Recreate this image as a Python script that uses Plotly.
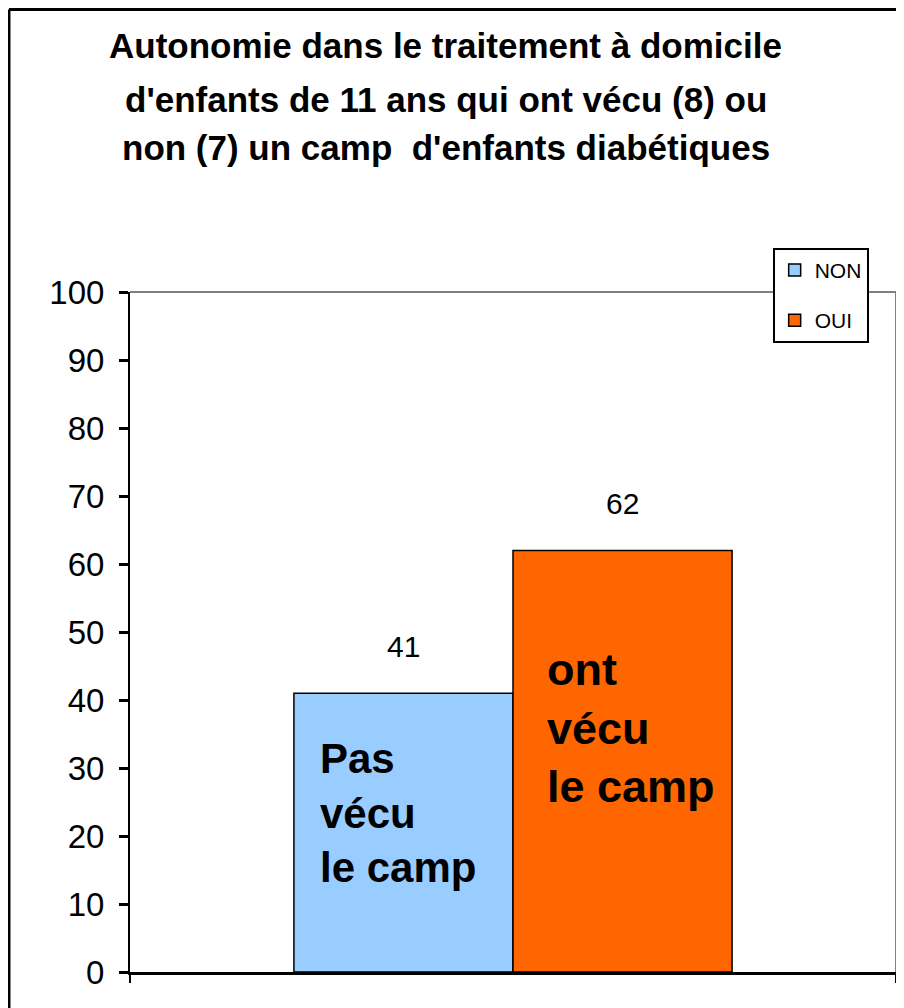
import plotly.graph_objects as go

series = ["NON", "OUI"]
values = [41, 62]
colors = ["#99CCFF", "#FF6600"]
inside_labels = ["Pas<br>vécu<br>le camp", "ont<br>vécu<br>le camp"]
category = [""]
yticks = list(range(0, 101, 10))

title_lines = ["Autonomie dans le traitement à domicile",
               "d'enfants de 11 ans qui ont vécu (8) ou",
               "non (7) un camp  d'enfants diabétiques"]

fig = go.Figure()
for name, val, col in zip(series, values, colors):
    fig.add_trace(go.Bar(
        x=category, y=[val], name=name, legendgroup=name,
        marker=dict(color=col, line=dict(color="black", width=1.5)),
        offsetgroup=name,
    ))

# value labels above bars, and big labels inside bars
bar_w = 0.286
pad = [0.031, 0.042]
shift = [-120, -178]
lab_size = [42, 45]
for i, (val, lab) in enumerate(zip(values, inside_labels)):
    xc = -bar_w / 2 if i == 0 else bar_w / 2
    fig.add_annotation(x=xc, y=val, text=str(val), showarrow=False,
                       yshift=47, font=dict(size=30, color="black"))
    fig.add_annotation(x=xc - bar_w / 2 + pad[i], y=val, text="<b>" + lab + "</b>",
                       showarrow=False, xanchor="left", yanchor="middle", align="left",
                       yshift=shift[i], font=dict(size=lab_size[i], color="black"))

# title, one annotation per line
for line, yp in zip(title_lines, [1.3632, 1.2824, 1.2118]):
    fig.add_annotation(xref="paper", yref="paper", x=0.4125, y=yp, text="<b>" + line + "</b>",
                       showarrow=False, xanchor="center", yanchor="middle",
                       font=dict(size=35, color="black"))

fig.update_layout(
    width=904, height=1008,
    margin=dict(l=122, r=16, t=284, b=44, autoexpand=False),
    paper_bgcolor="white", plot_bgcolor="white",
    font=dict(family="Liberation Sans, Arial, sans-serif", color="black"),
    barmode="group", bargap=0.428,
    showlegend=True,
    legend=dict(x=0.839, y=1.065, xanchor="left", yanchor="top",
                bordercolor="black", borderwidth=2, bgcolor="white",
                font=dict(size=21), itemwidth=30, tracegroupgap=20),
    xaxis=dict(range=[-0.5, 0.5], showline=True, linecolor="black", linewidth=3,
               ticks="outside", ticklen=8, tickwidth=2, tickcolor="black",
               tickvals=[-0.5, 0.5], ticktext=["", ""], showgrid=False, zeroline=False),
    yaxis=dict(range=[0, 100], tickvals=yticks, showline=True, linecolor="black",
               linewidth=2, ticks="outside", ticklen=9, tickwidth=3, tickcolor="black",
               tickfont=dict(size=33), ticklabelstandoff=8,
               showgrid=False, zeroline=False),
)

# gray plot border at top and right
fig.add_shape(type="line", xref="paper", yref="paper", x0=0, x1=1, y0=1, y1=1,
              line=dict(color="#808080", width=2))
fig.add_shape(type="line", xref="paper", yref="paper", x0=1, x1=1, y0=0, y1=1,
              line=dict(color="#808080", width=2))
# outer chart frame (left and top visible)
fig.add_shape(type="line", xref="paper", yref="paper", x0=-0.158, x1=-0.158,
              y0=-0.1, y1=1.4154, line=dict(color="black", width=3))
fig.add_shape(type="line", xref="paper", yref="paper", x0=-0.158, x1=1.03,
              y0=1.4154, y1=1.4154, line=dict(color="black", width=3))

fig.write_html("out.html")
